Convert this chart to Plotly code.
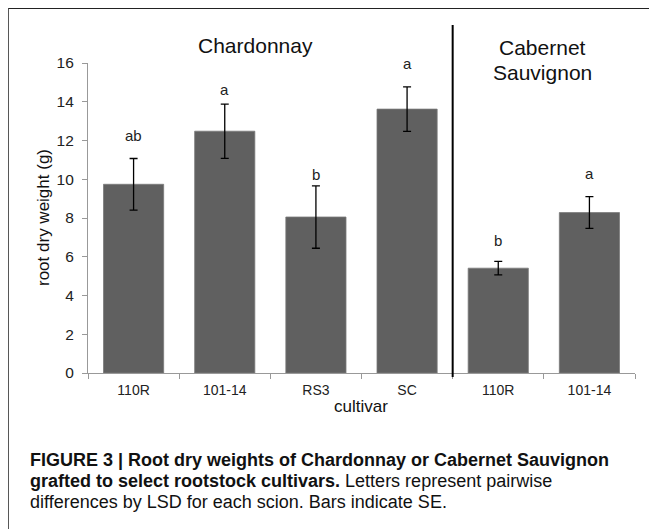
import plotly.graph_objects as go

# ---- data ----
scions = ["Chardonnay", "Chardonnay", "Chardonnay", "Chardonnay",
          "Cabernet Sauvignon", "Cabernet Sauvignon"]
cultivars = ["110R", "101-14", "RS3", "SC", "110R", "101-14"]
keys = ["Chard 110R", "Chard 101-14", "Chard RS3", "Chard SC", "CS 110R", "CS 101-14"]
root_dry_weight = [9.74, 12.48, 8.05, 13.62, 5.41, 8.28]
se = [1.33, 1.40, 1.61, 1.15, 0.35, 0.82]
letters = ["ab", "a", "b", "a", "b", "a"]
letter_y = [12.25, 14.65, 10.25, 15.95, 6.85, 10.3]
y_ticks = [0, 2, 4, 6, 8, 10, 12, 14, 16]

FONT = "Liberation Sans, Arial, sans-serif"

# page offset: the html body has an 8px margin
O = 8
W, H = 657 - O, 529 - O
# plot area in page pixels
L, R, T, B = 88, 635, 63, 373

def px(x):
    return (x - L) / (R - L)

def py(y):
    return (B - y) / (B - T)

fig = go.Figure()
fig.add_trace(go.Bar(
    x=keys, y=root_dry_weight,
    marker=dict(color="#606060", line=dict(color="#7a7a7a", width=0.8)),
    error_y=dict(type="data", array=se, visible=True, color="#000000",
                 thickness=1.3, width=4),
    showlegend=False, hoverinfo="x+y",
))

annotations = []
for k, lt, ly in zip(keys, letters, letter_y):
    annotations.append(dict(x=k, y=ly, xref="x", yref="y", text=lt, showarrow=False,
                            font=dict(family=FONT, size=15, color="#222"),
                            xanchor="center", yanchor="middle"))

CAP = dict(family=FONT, size=18, color="#111")
annotations += [
    dict(x=px(255.6), y=py(46), xref="paper", yref="paper", text="Chardonnay",
         showarrow=False, font=dict(family=FONT, size=21, color="#111"),
         xanchor="center", yanchor="middle"),
    dict(x=px(542), y=py(47), xref="paper", yref="paper", text="Cabernet",
         showarrow=False, font=dict(family=FONT, size=21, color="#111"),
         xanchor="center", yanchor="middle"),
    dict(x=px(542), y=py(73), xref="paper", yref="paper", text="Sauvignon",
         showarrow=False, font=dict(family=FONT, size=21, color="#111"),
         xanchor="center", yanchor="middle"),
    dict(x=px(43), y=0.5, xref="paper", yref="paper", text="root dry weight (g)",
         textangle=-90, showarrow=False, font=dict(family=FONT, size=17, color="#111"),
         xanchor="center", yanchor="middle"),
    dict(x=px(361), y=py(406), xref="paper", yref="paper", text="cultivar",
         showarrow=False, font=dict(family=FONT, size=17, color="#111"),
         xanchor="center", yanchor="middle"),
    dict(x=px(27.5), y=py(460), xref="paper", yref="paper",
         text="<b>FIGURE 3 | Root dry weights of Chardonnay or Cabernet Sauvignon</b>",
         showarrow=False, font=CAP, xanchor="left", yanchor="middle"),
    dict(x=px(27.5), y=py(481), xref="paper", yref="paper",
         text="<b>grafted to select rootstock cultivars.</b> Letters represent pairwise",
         showarrow=False, font=CAP, xanchor="left", yanchor="middle"),
    dict(x=px(27.5), y=py(502), xref="paper", yref="paper",
         text="differences by LSD for each scion. Bars indicate SE.",
         showarrow=False, font=CAP, xanchor="left", yanchor="middle"),
]

shapes = [
    # divider between scions
    dict(type="line", xref="x", yref="paper", x0=3.5, x1=3.5, y0=py(25), y1=py(377),
         line=dict(color="#000", width=2)),
    # figure frame (top and left)
    dict(type="line", xref="paper", yref="paper", x0=px(8), x1=px(660), y0=py(8), y1=py(8),
         line=dict(color="#222", width=1.8)),
    dict(type="line", xref="paper", yref="paper", x0=px(8), x1=px(8), y0=py(8), y1=py(540),
         line=dict(color="#444", width=1.8)),
]

fig.update_layout(
    width=W, height=H,
    margin=dict(l=L - O, r=657 - R, t=T - O, b=529 - B, pad=0),
    paper_bgcolor="white", plot_bgcolor="white",
    bargap=0.34,
    annotations=annotations, shapes=shapes,
    xaxis=dict(type="category", tickmode="array", tickvals=keys, ticktext=cultivars,
               tickson="boundaries", ticks="outside", ticklen=5, tickcolor="#999",
               showline=True, linecolor="#999", linewidth=1.2, showgrid=False,
               ticklabelstandoff=4,
               tickfont=dict(family=FONT, size=14, color="#222"), range=[-0.5, 5.5],
               zeroline=False),
    yaxis=dict(range=[0, 16], tickvals=y_ticks, ticks="outside", ticklen=5,
               tickcolor="#999", showline=True, linecolor="#999", linewidth=1.2,
               showgrid=False, zeroline=False, ticklabelstandoff=5,
               tickfont=dict(family=FONT, size=15.5, color="#222")),
)

fig.write_html("out.html")
